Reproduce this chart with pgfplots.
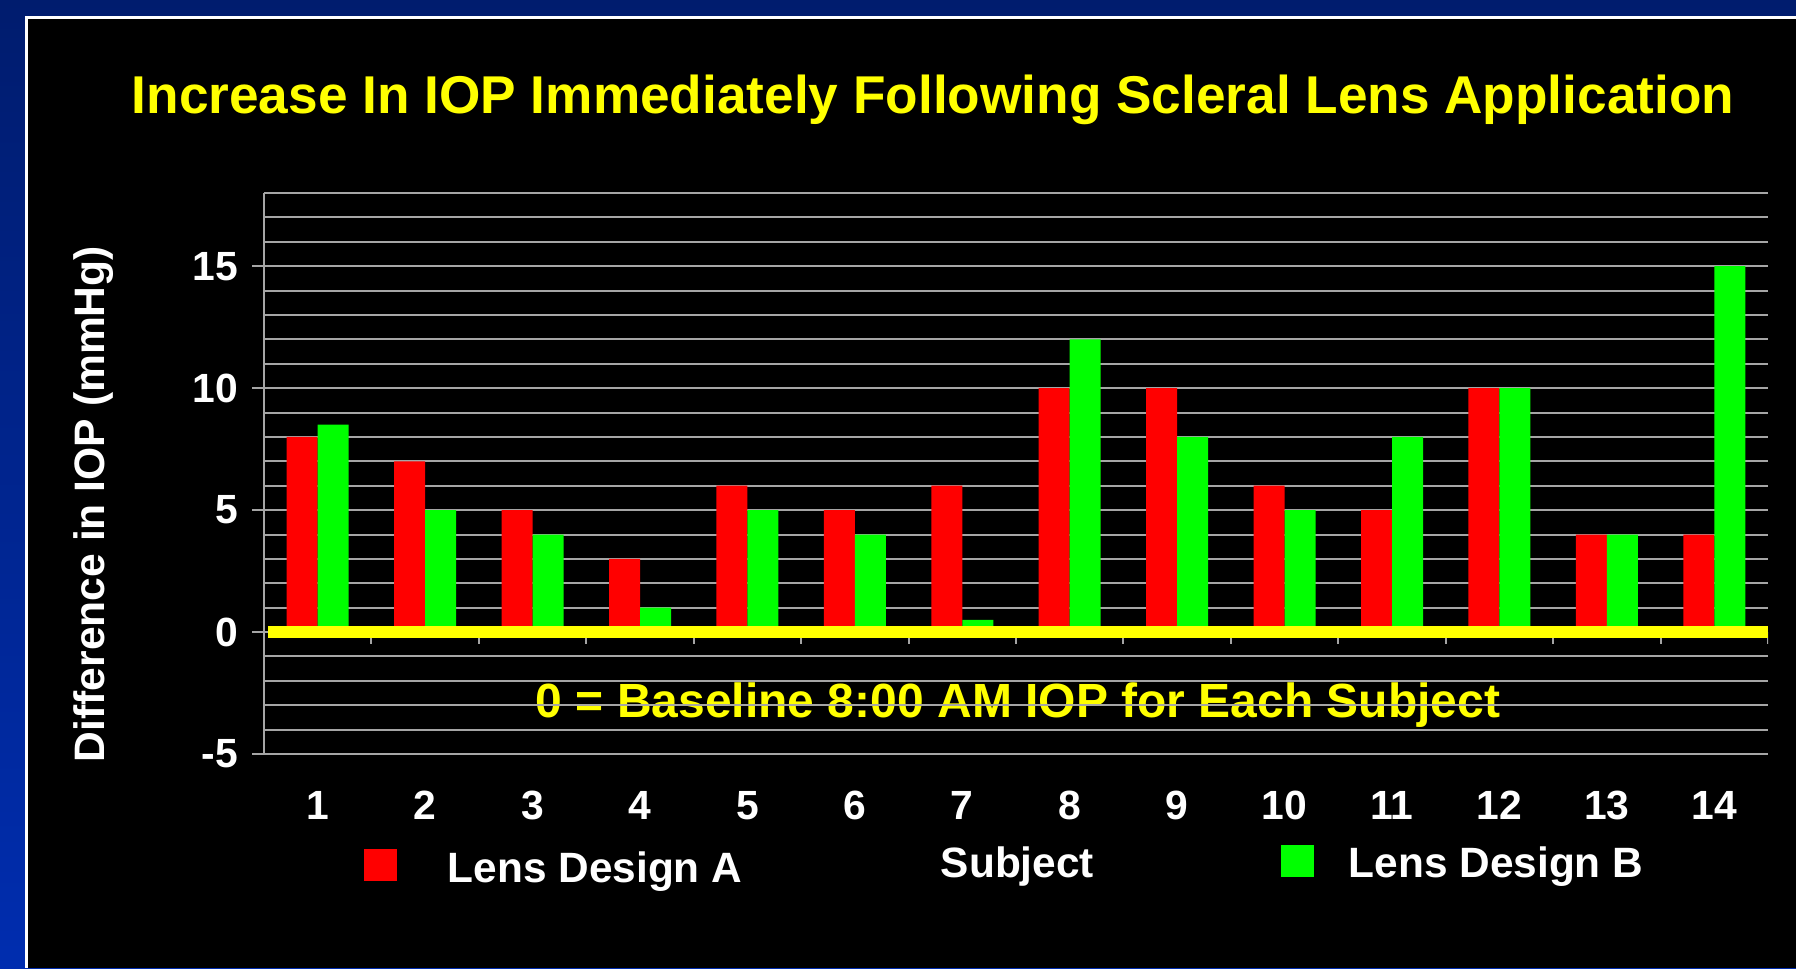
\documentclass[border=0pt]{standalone}
\usepackage{fontspec}
\setmainfont{Liberation Sans}
\usepackage{pgfplots}
\pgfplotsset{compat=1.18}
\definecolor{gridgray}{RGB}{165,165,165}
\definecolor{navytop}{RGB}{0,28,110}
\definecolor{bluebot}{RGB}{0,45,175}
\definecolor{ygold}{RGB}{255,255,0}
\definecolor{barred}{RGB}{255,0,0}
\definecolor{bargreen}{RGB}{0,255,0}
\begin{document}
\begin{tikzpicture}
\begin{scope}[x=0.25pt,y=-0.25pt]
\shade[top color=navytop, bottom color=bluebot] (0,0) rectangle (1796,968);
\fill[white] (25,16) rectangle (1796,968);
\fill[black] (28,19) rectangle (1796,968);
\node[anchor=base, text=ygold, font=\bfseries\fontsize{13.3}{16}\selectfont, inner sep=0pt] at (933,113) {Increase In IOP Immediately Following Scleral Lens Application};
\node[rotate=90, text=white, font=\bfseries\fontsize{10.65}{13}\selectfont, inner sep=0pt] at (94,504) {Difference in IOP (mmHg)};
\node[anchor=base, text=ygold, font=\bfseries\fontsize{12}{14}\selectfont, inner sep=0pt] at (1018,717) {0 = Baseline 8:00 AM IOP for Each Subject};
\fill[barred] (364,849) rectangle (397,881);
\node[anchor=base west, text=white, font=\bfseries\fontsize{10.6}{13}\selectfont, inner sep=0pt] at (447,882) {Lens Design A};
\node[anchor=base west, text=white, font=\bfseries\fontsize{10.6}{13}\selectfont, inner sep=0pt] at (940,877) {Subject};
\fill[bargreen] (1281,845) rectangle (1314,877);
\node[anchor=base west, text=white, font=\bfseries\fontsize{10.6}{13}\selectfont, inner sep=0pt] at (1348,877) {Lens Design B};
\end{scope}
\begin{axis}[
  at={(66pt,-188.5pt)}, anchor=south west,
  width=376pt, height=140.25pt, scale only axis,
  xmin=0.5, xmax=14.5, ymin=-5, ymax=18,
  ybar=0pt, bar width=7.75pt,
  axis y line*=left, axis x line*=bottom,
  x axis line style={draw=none},
  y axis line style={gridgray, line width=0.5pt},
  xtick={1,...,14},
  x tick style={draw=none},
  xticklabel style={text=white, font=\bfseries\fontsize{10.2}{12}\selectfont, anchor=base, yshift=-13.35pt},
  ytick={-5,0,5,10,15},
  minor ytick={-4,-3,-2,-1,1,2,3,4,6,7,8,9,11,12,13,14,16,17,18},
  ymajorgrids, yminorgrids,
  major grid style={gridgray, line width=0.5pt},
  minor grid style={gridgray, line width=0.5pt},
  y tick style={gridgray, line width=0.5pt},
  tick align=outside, major tick length=3pt, minor tick length=0pt,
  yticklabel style={text=white, font=\bfseries\fontsize{10.2}{12}\selectfont},
  /pgf/number format/assume math mode=true,
]
\addplot[fill=barred, draw=none] coordinates {(1,8) (2,7) (3,5) (4,3) (5,6) (6,5) (7,6) (8,10) (9,10) (10,6) (11,5) (12,10) (13,4) (14,4)};
\addplot[fill=bargreen, draw=none] coordinates {(1,8.5) (2,5) (3,4) (4,1) (5,5) (6,4) (7,0.5) (8,12) (9,8) (10,5) (11,8) (12,10) (13,4) (14,15)};
\pgfplotsinvokeforeach{0,...,14}{\draw[gridgray, line width=0.5pt] (axis cs:#1+0.5,0) -- (axis cs:#1+0.5,-0.5);}
\draw[ygold, line width=3pt] (axis cs:0.54,0) -- (axis cs:14.5,0);
\end{axis}
\end{tikzpicture}
\end{document}
